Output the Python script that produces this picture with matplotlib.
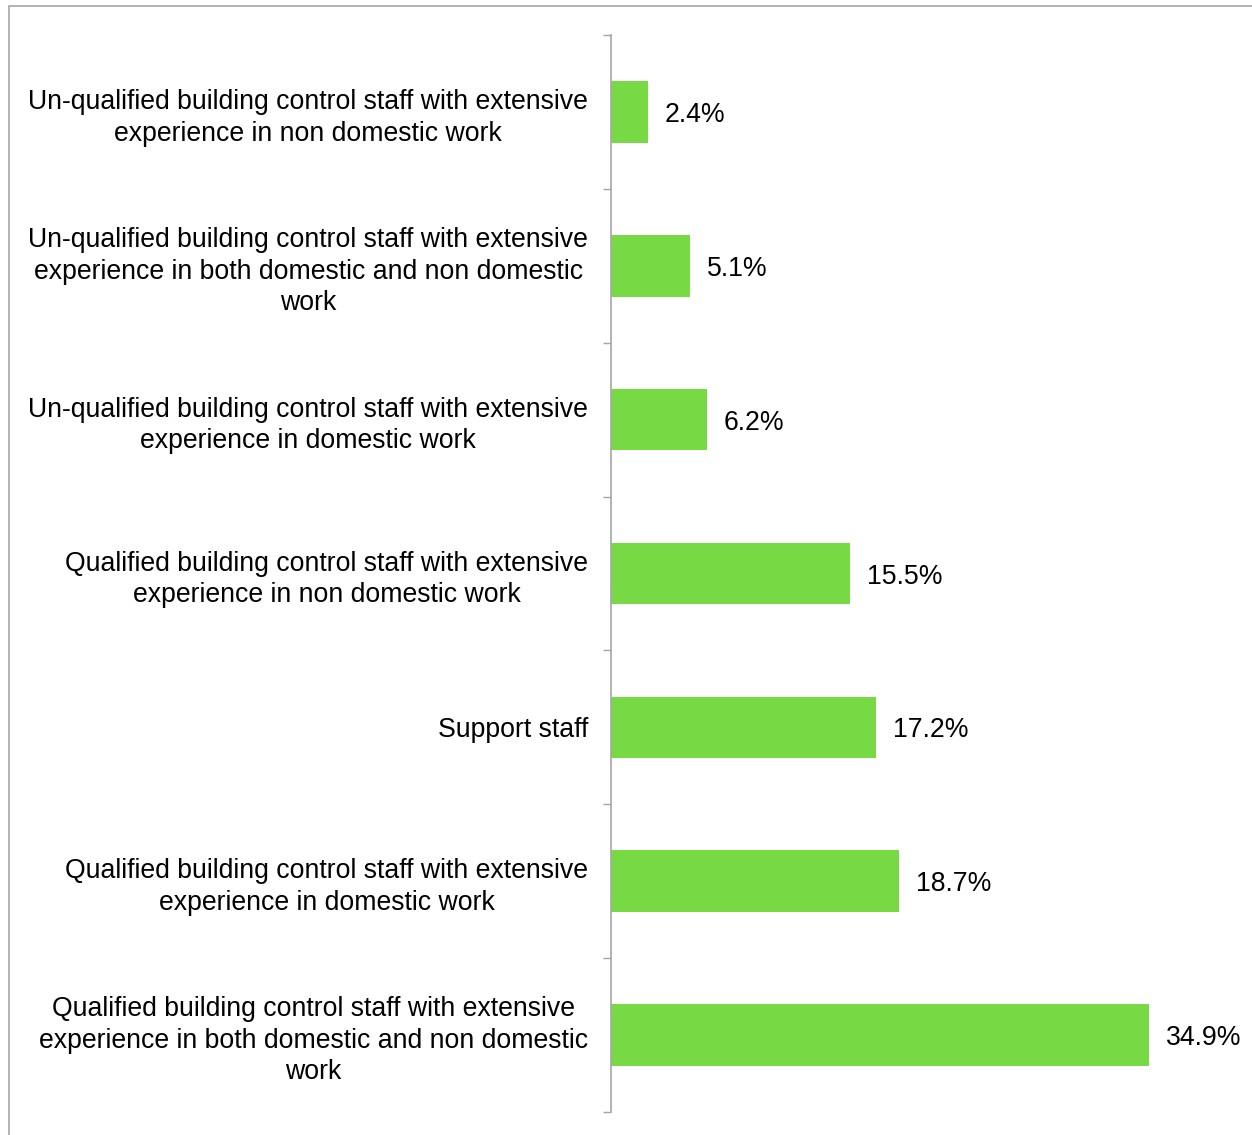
import matplotlib.pyplot as plt
from matplotlib.patches import Rectangle

plt.rcParams['font.family'] = ['Liberation Sans', 'DejaVu Sans']

categories = [
    "Un-qualified building control staff with extensive\nexperience in non domestic work",
    "Un-qualified building control staff with extensive\nexperience in both domestic and non domestic\nwork",
    "Un-qualified building control staff with extensive\nexperience in domestic work",
    "Qualified building control staff with extensive\nexperience in non domestic work",
    "Support staff",
    "Qualified building control staff with extensive\nexperience in domestic work",
    "Qualified building control staff with extensive\nexperience in both domestic and non domestic\nwork",
]
shares = [2.4, 5.1, 6.2, 15.5, 17.2, 18.7, 34.9]

fig = plt.figure(figsize=(12.52, 11.35), dpi=100)
ax = fig.add_axes([611 / 1252, 1 - 1112 / 1135, 632 / 1252, 1077 / 1135])

pos = list(range(len(categories)))
ax.barh(pos, shares, height=0.4, color='#77DA45')

for y, v in zip(pos, shares):
    ax.text(v + 1.1, y + 0.02, f"{v}%", va='center', ha='left', fontsize=19.2)

ax.set_ylim(len(categories) - 0.5, -0.5)
ax.set_xlim(0, 41)

# boundary ticks on the axis line, labels at the bar centres
ax.set_yticks([i - 0.5 for i in range(len(categories) + 1)])
ax.set_yticklabels([])
ax.set_yticks(pos, minor=True)
ax.set_yticklabels(categories, minor=True, fontsize=19.2, multialignment='center',
                   linespacing=1.28)
ax.tick_params(axis='y', which='major', length=6, width=1, color='#A6A6A6', direction='out')
ax.tick_params(axis='y', which='minor', length=0, pad=16.5)
ax.set_xticks([])

for side in ['top', 'right', 'bottom']:
    ax.spines[side].set_visible(False)
ax.spines['left'].set_color('#A6A6A6')
ax.spines['left'].set_linewidth(1.2)

# outer chart border
fig.patches.append(Rectangle((9 / 1252, -0.05), 1.1, 1 - 6 / 1135 + 0.05,
                             transform=fig.transFigure, fill=False,
                             edgecolor='#A6A6A6', linewidth=1.2))

fig.savefig('out.png', dpi=100)
